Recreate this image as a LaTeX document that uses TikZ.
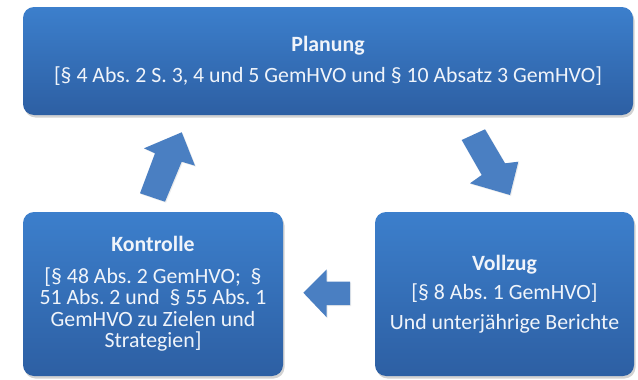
\documentclass[tikz,border=0pt]{standalone}
\usepackage{fontspec}
\setmainfont{Carlito}
\usetikzlibrary{shadows}
\definecolor{boxtop}{RGB}{60,127,204}
\definecolor{boxbot}{RGB}{45,95,163}
\definecolor{arrowblue}{RGB}{74,127,194}
\definecolor{txt}{RGB}{240,244,250}
\tikzset{
  box/.style={rounded corners=11pt, top color=boxtop, bottom color=boxbot,
    draw=none, text=txt, align=center, inner sep=0pt,
    drop shadow={opacity=0.35, shadow xshift=1.5pt, shadow yshift=-2.5pt},
    font=\fontsize{21.8}{21.5}\selectfont\frenchspacing},
  blockarrow/.style={fill=arrowblue, draw=none,
    drop shadow={opacity=0.15, shadow xshift=1pt, shadow yshift=-1pt}}
}
\begin{document}
\begin{tikzpicture}[x=1pt,y=-1pt]
\useasboundingbox (0,0) rectangle (638,380);
\fill[white] (0,0) rectangle (638,380);
\node[box, minimum width=610pt, minimum height=108pt] (plan) at (328,61)
  {\textbf{Planung}\\[9pt][§ 4 Abs. 2 S. 3, 4 und 5 GemHVO und § 10 Absatz 3 GemHVO]};
\node[box, minimum width=260pt, minimum height=164pt] (kontrolle) at (153,294)
  {\textbf{Kontrolle}\\[10pt][§ 48 Abs. 2 GemHVO;\ \ §\\51 Abs. 2 und\ \ § 55 Abs. 1\\GemHVO zu Zielen und\\Strategien]};
\node[box, minimum width=259pt, minimum height=164pt] (vollzug) at (504.5,294)
  {\textbf{Vollzug}\\[8pt][§ 8 Abs. 1 GemHVO]\\[8pt]Und unterjährige Berichte};
% block arrows
\fill[blockarrow] (181.7,132.3) -- (195,165.7) -- (181.7,161.7) -- (165,201.7)
  -- (140,193.3) -- (155,153.3) -- (144,148.3) -- cycle;
\fill[blockarrow] (461.7,140) -- (485,129.3) -- (505,163.3) -- (518.3,161.7)
  -- (510,195) -- (470,183.3) -- (481.7,175) -- cycle;
\fill[blockarrow] (303.3,292.7) -- (326.7,269.3) -- (326.7,281.7) -- (350,281.7)
  -- (350,305) -- (326.7,305) -- (326.7,317.3) -- cycle;
\end{tikzpicture}
\end{document}
